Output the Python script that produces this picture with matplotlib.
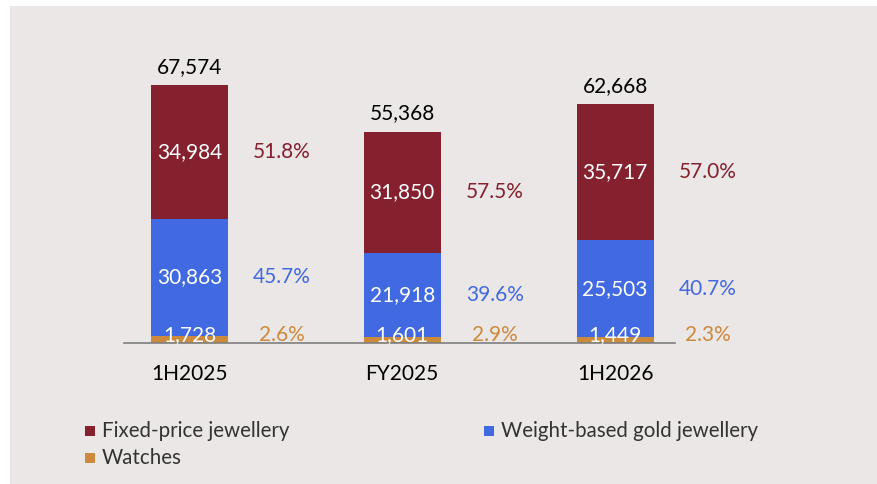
import numpy as np
import matplotlib
matplotlib.use("Agg")
import matplotlib.pyplot as plt
from matplotlib.patches import Rectangle

plt.rcParams['font.family'] = ['Lato', 'DejaVu Sans']

# ---------------- data ----------------
periods = ['1H2025', 'FY2025', '1H2026']
watches = [1728, 1601, 1449]
weight_based = [30863, 21918, 25503]
fixed_price = [34984, 31850, 35717]
totals = [67574, 55368, 62668]
pct_watches = ['2.6%', '2.9%', '2.3%']
pct_weight = ['45.7%', '39.6%', '40.7%']
pct_fixed = ['51.8%', '57.5%', '57.0%']
legend_labels = ['Fixed-price jewellery', 'Watches', 'Weight-based gold jewellery']

# ---------------- colours ----------------
c_fixed = '#85202e'
c_weight = '#4169e1'
c_watch = '#cc8a3c'
bg = '#ebe7e6'

W, H = 877, 484
fig = plt.figure(figsize=(W / 100, H / 100), dpi=100, facecolor='white')
fig.add_artist(Rectangle((10 / W, 0), 1, 1 - 6 / H, transform=fig.transFigure,
                         facecolor=bg, edgecolor='none', zorder=0))

ax = fig.add_axes([123.5 / W, (H - 343) / H, (674.6 - 123.5) / W, 0.5523])
ax.set_facecolor('none')
ax.set_xlim(-0.31, 2.28)
ax.set_ylim(0, 70000)

x = np.arange(len(periods))
bw = 0.362
w = np.array(watches)
g = np.array(weight_based)
f = np.array(fixed_price)
ax.bar(x, w, bw, color=c_watch, zorder=2)
ax.bar(x, g, bw, bottom=w, color=c_weight, zorder=2)
ax.bar(x, f, bw, bottom=w + g, color=c_fixed, zorder=2)

for s in ['top', 'right', 'left']:
    ax.spines[s].set_visible(False)
ax.spines['bottom'].set_color('#7f7f7f')
ax.spines['bottom'].set_linewidth(1.2)
ax.set_xticks([])
ax.set_yticks([])

fs = 15
off = 0.435
for i in range(len(periods)):
    # totals on top
    ax.annotate(f'{totals[i]:,}', (x[i], totals[i]), xytext=(0, 13), textcoords='offset points',
                ha='center', va='center', fontsize=fs, color='black')
    # category label
    ax.annotate(periods[i], (x[i], 0), xytext=(0, -22.5), textcoords='offset points',
                ha='center', va='center', fontsize=fs, color='black')
    # fixed-price segment
    yc = w[i] + g[i] + f[i] / 2
    ax.text(x[i], yc, f'{f[i]:,}', ha='center', va='center', fontsize=fs, color='white', zorder=3)
    ax.text(x[i] + off, yc, pct_fixed[i], ha='center', va='center', fontsize=fs,
            color=c_fixed, clip_on=False)
    # weight-based segment
    yc = w[i] + g[i] / 2
    ax.text(x[i], yc, f'{g[i]:,}', ha='center', va='center', fontsize=fs, color='white', zorder=3)
    ax.text(x[i] + off, yc, pct_weight[i], ha='center', va='center', fontsize=fs,
            color=c_weight, clip_on=False)
    # watches segment
    ax.annotate(f'{w[i]:,}', (x[i], 0), xytext=(0, 1.5), textcoords='offset points',
                ha='center', va='baseline', fontsize=fs, color='white', zorder=3)
    ax.annotate(pct_watches[i], (x[i] + off, 0), xytext=(0, 1.5), textcoords='offset points',
                ha='center', va='baseline', fontsize=fs, color=c_watch, annotation_clip=False)

# ---------------- legend ----------------
leg_colors = [c_fixed, c_watch, c_weight]
leg_pos = [(85, 431), (85, 458), (484, 431)]
for lab, col, (px, py) in zip(legend_labels, leg_colors, leg_pos):
    fig.add_artist(Rectangle((px / W, (H - py - 5) / H), 10 / W, 10 / H,
                             transform=fig.transFigure, facecolor=col, edgecolor='none'))
    fig.text((px + 17) / W, (H - py) / H, lab, ha='left', va='center', fontsize=14.8,
             color='#333333')

fig.savefig('out.png', dpi=100, facecolor='white')
